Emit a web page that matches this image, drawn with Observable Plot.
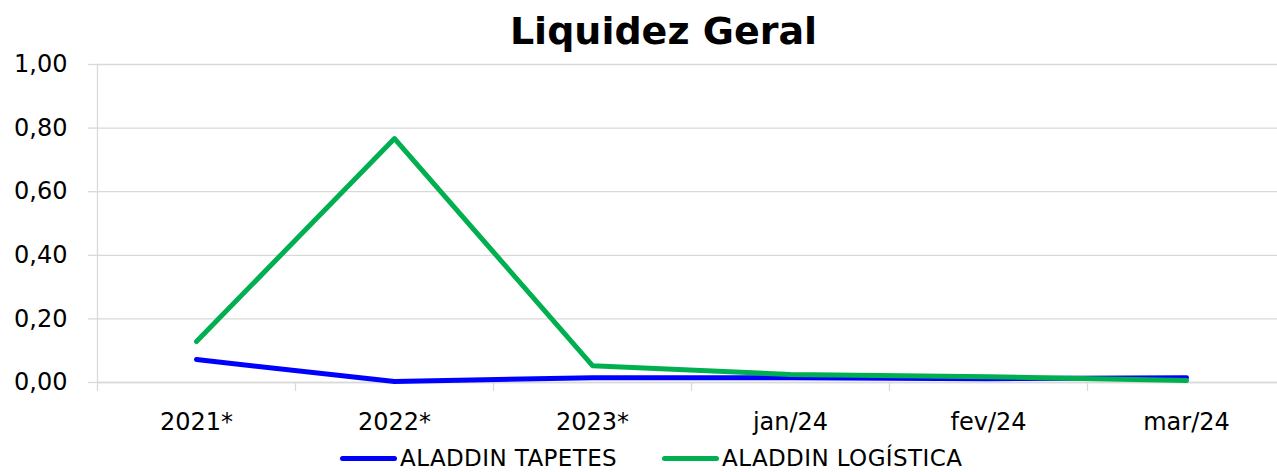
<!DOCTYPE html>
<html>
<head>
<meta charset="utf-8">
<script src="https://cdn.jsdelivr.net/npm/d3@7"></script>
<script src="https://cdn.jsdelivr.net/npm/@observablehq/plot@0.6"></script>
<style>
  html, body { margin: 0; padding: 0; background: #fff; overflow: hidden; }
  #wrap { position: relative; width: 1277px; height: 472px; overflow: hidden; font-family: "DejaVu Sans", sans-serif; }
  #title { position: absolute; left: 0; width: 1327px; top: 8px; text-align: center; font-weight: bold; font-size: 38px; line-height: 46px; color: #000; }
  #chart { position: absolute; left: 0; top: 0; }
  #legend { position: absolute; left: 340px; top: 448px; display: flex; align-items: center; font-size: 23px; line-height: 20px; color: #000; }
  .item { display: flex; align-items: center; }
  .sw { display: inline-block; width: 57px; height: 5px; border-radius: 3px; margin-right: 3px; }
  .txt { letter-spacing: 0.4px; }
</style>
</head>
<body>
<div id="wrap">
  <div id="chart"></div>
  <div id="title">Liquidez Geral</div>
  <div id="legend"></div>
</div>
<script>
const categories = ["2021*", "2022*", "2023*", "jan/24", "fev/24", "mar/24"];
const tapetes = [0.072, 0.003, 0.015, 0.015, 0.012, 0.015];
const logistica = [0.129, 0.767, 0.053, 0.025, 0.018, 0.006];
const yTicks = [0, 0.2, 0.4, 0.6, 0.8, 1.0];
const seriesNames = ["ALADDIN TAPETES", "ALADDIN LOGÍSTICA"];
const seriesColors = ["#0000FF", "#00B050"];

const seriesValues = [tapetes, logistica];
const data = [];
seriesNames.forEach((s, k) => {
  categories.forEach((c, i) => data.push({i, cat: c, v: seriesValues[k][i], series: s}));
});
const idx = d3.range(categories.length);
const bounds = d3.range(categories.length + 1).map(i => i - 0.5);
const fmt = d => d.toFixed(2).replace(".", ",");

const chart = Plot.plot({
  width: 1285,
  height: 440,
  marginTop: 64,
  marginBottom: 58,
  marginLeft: 97,
  marginRight: 0,
  style: {fontFamily: "DejaVu Sans, sans-serif", fontSize: "24px", color: "#000", background: "transparent", overflow: "visible", maxWidth: "none"},
  x: {type: "linear", domain: [-0.5, categories.length - 0.5]},
  y: {domain: [0, 1]},
  color: {domain: seriesNames, range: seriesColors},
  marks: [
    Plot.gridY(yTicks, {stroke: "#d9d9d9", strokeOpacity: 1, strokeWidth: 1.3}),
    Plot.ruleX([-0.5], {stroke: "#d9d9d9", strokeWidth: 1.3}),
    Plot.ruleY([0], {stroke: "#d9d9d9", strokeWidth: 1.6}),
    Plot.axisY({ticks: yTicks, tickSize: 9, tickPadding: 21, tickFormat: fmt, stroke: "#d9d9d9", strokeWidth: 1.3, fill: "#000", fontSize: 24, label: null}),
    Plot.axisX({ticks: bounds, tickSize: 9, tickFormat: () => "", stroke: "#d9d9d9", strokeWidth: 1.3, label: null}),
    Plot.axisX({ticks: idx, tickSize: 0, tickPadding: 30, tickFormat: i => categories[i], fill: "#000", fontSize: 24, label: null}),
    Plot.line(data, {x: "i", y: "v", z: "series", stroke: "series", strokeWidth: 5, strokeLinecap: "round", strokeLinejoin: "round"})
  ]
});
document.getElementById("chart").appendChild(chart);

const legend = document.getElementById("legend");
const swatchLefts = [0, 322];
seriesNames.forEach((s, k) => {
  const item = document.createElement("div");
  item.className = "item";
  item.style.position = "absolute";
  item.style.left = swatchLefts[k] + "px";
  item.style.top = "0px";
  item.style.whiteSpace = "nowrap";
  const sw = document.createElement("span");
  sw.className = "sw";
  sw.style.background = seriesColors[k];
  const t = document.createElement("span");
  t.className = "txt";
  t.textContent = s;
  item.appendChild(sw);
  item.appendChild(t);
  legend.appendChild(item);
});
</script>
</body>
</html>
